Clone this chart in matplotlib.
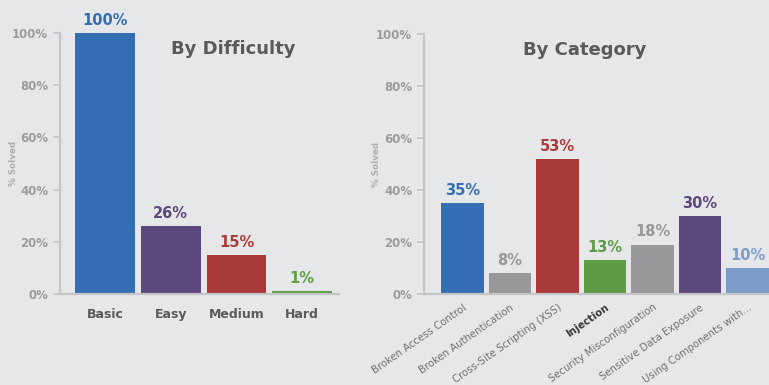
import matplotlib
matplotlib.use("Agg")
import matplotlib.pyplot as plt
from matplotlib.ticker import FuncFormatter

diff_labels = ["Basic", "Easy", "Medium", "Hard"]
diff_values = [100, 26, 15, 1]
diff_colors = ["#336EB3", "#5E477C", "#AA3A3A", "#5E9B45"]

cat_labels = ["Broken Access Control", "Broken Authentication", "Cross-Site Scripting (XSS)",
              "Injection", "Security Misconfiguration", "Sensitive Data Exposure",
              "Using Components with..."]
cat_values = [35, 8, 52, 13, 19, 30, 10]
cat_display = ["35%", "8%", "53%", "13%", "18%", "30%", "10%"]
cat_colors = ["#336EB3", "#98989B", "#AA3A3A", "#5E9B45", "#98989B", "#5E477C", "#7E9CC8"]

yticks = [0, 20, 40, 60, 80, 100]

BG = "#E6E7E8"
SPINE = "#C4C5C7"
TICK = "#9C9C9E"
DARK = "#5A5A5C"

plt.rcParams['font.family'] = ['DejaVu Sans']
fig = plt.figure(figsize=(7.69, 3.85), dpi=100, facecolor=BG)

def style(ax):
    ax.set_facecolor(BG)
    for s in ["top", "right"]:
        ax.spines[s].set_visible(False)
    for s in ["left", "bottom"]:
        ax.spines[s].set_color(SPINE)
        ax.spines[s].set_linewidth(1.6)
    ax.set_ylim(0, 100)
    ax.set_yticks(yticks)
    ax.yaxis.set_major_formatter(FuncFormatter(lambda v, p: f"{int(v)}%"))
    ax.tick_params(axis="y", colors=SPINE, labelcolor=TICK, length=5, width=1.2, labelsize=8.5)
    for t in ax.get_yticklabels():
        t.set_fontweight("bold")
    ax.tick_params(axis="x", length=0)
    ax.set_ylabel("% Solved", fontsize=6.3, color="#AEAEB0", fontweight="bold")

# Left chart
ax1 = fig.add_axes([60/769, 91/385, (339-60)/769, 261/385])
style(ax1)
x1 = list(range(len(diff_labels)))
ax1.bar(x1, diff_values, width=0.91, color=diff_colors)
ax1.set_xlim(-0.685, 3.56)
ax1.set_xticks(x1)
ax1.set_xticklabels(diff_labels, fontsize=9, fontweight="bold", color=DARK)
ax1.tick_params(axis="x", pad=10)
for xi, v, c in zip(x1, diff_values, diff_colors):
    ax1.text(xi, v + 2, f"{v}%", ha="center", va="bottom", fontsize=10.5,
             fontweight="bold", color=c)
ax1.text(0.62, 0.94, "By Difficulty", transform=ax1.transAxes, ha="center", va="center",
         fontsize=13, fontweight="bold", color=DARK)
ax1.yaxis.set_label_coords(-0.15, 0.5)

# Right chart
ax2 = fig.add_axes([424/769, 91/385, (786-424)/769, 260/385])
style(ax2)
x2 = list(range(len(cat_labels)))
ax2.bar(x2, cat_values, width=0.9, color=cat_colors)
ax2.set_xlim(-0.81, 6.81)
ax2.set_xticks(x2)
ax2.set_xticklabels(cat_labels, fontsize=7.3, color="#707072", rotation=35,
                    ha="right", rotation_mode="anchor")
ax2.tick_params(axis="x", pad=6)
for t in ax2.get_xticklabels():
    if t.get_text() == "Injection":
        t.set_color("#3A3A3C")
        t.set_fontweight("bold")
for xi, v, lab, c in zip(x2, cat_values, cat_display, cat_colors):
    ax2.text(xi, v + 2, lab, ha="center", va="bottom", fontsize=10.5,
             fontweight="bold", color=c)
ax2.text(161/362, 0.94, "By Category", transform=ax2.transAxes, ha="center", va="center",
         fontsize=13, fontweight="bold", color=DARK)
ax2.yaxis.set_label_coords(-0.12, 0.5)

fig.savefig("out.png", dpi=100, facecolor=BG)
